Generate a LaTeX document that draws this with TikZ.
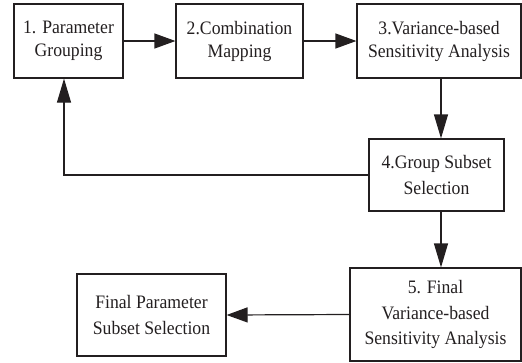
\documentclass[tikz,border=0pt]{standalone}
\usepackage{fontspec}
\setmainfont{Liberation Serif}[FakeStretch=0.93]
\usetikzlibrary{arrows.meta}
\definecolor{ink}{HTML}{231F20}
\begin{document}
\begin{tikzpicture}[x=1pt,y=-1pt,
  box/.style={draw=ink, line width=1.2pt, rectangle, inner sep=0pt, align=center,
    font=\fontsize{19}{23}\selectfont, text=ink},
  lbox/.style={box, font=\fontsize{19}{25.5}\selectfont},
  harr/.style={draw=ink, line width=1.2pt, -{Triangle[length=21pt,width=15pt]}},
  varr/.style={draw=ink, line width=1.2pt, -{Triangle[length=24pt,width=14pt]}}]
\useasboundingbox (0,0) rectangle (522,362);
\node[box, minimum width=109pt, minimum height=74pt] (b1) at (68.5,41) {1. Parameter\\Grouping};
\node[box, minimum width=127pt, minimum height=74pt] (b2) at (239.5,41) {2.Combination\\Mapping};
\node[box, minimum width=164pt, minimum height=74pt] (b3) at (439,41) {3.Variance-based\\Sensitivity Analysis};
\node[lbox, minimum width=135pt, minimum height=72pt] (b4) at (436.5,175) {4.Group Subset\\Selection};
\node[lbox, minimum width=171pt, minimum height=93pt] (b5) at (435.5,314.5) {5. Final\\Variance-based\\Sensitivity Analysis};
\node[lbox, minimum width=149pt, minimum height=82pt] (fin) at (151.5,315) {Final Parameter\\Subset Selection};
\draw[harr] (b1.east) -- (b2.west);
\draw[harr] (b2.east) -- (b3.west);
\draw[varr] ([xshift=2pt]b3.south) -- ([xshift=2pt]b3.south |- b4.north);
\draw[varr] (b4.west) -| ([xshift=-4.5pt]b1.south);
\draw[varr] ([xshift=4.5pt]b4.south) -- ([xshift=4.5pt]b4.south |- b5.north);
\draw[harr] (b5.west) -- (fin.east);
\end{tikzpicture}
\end{document}
